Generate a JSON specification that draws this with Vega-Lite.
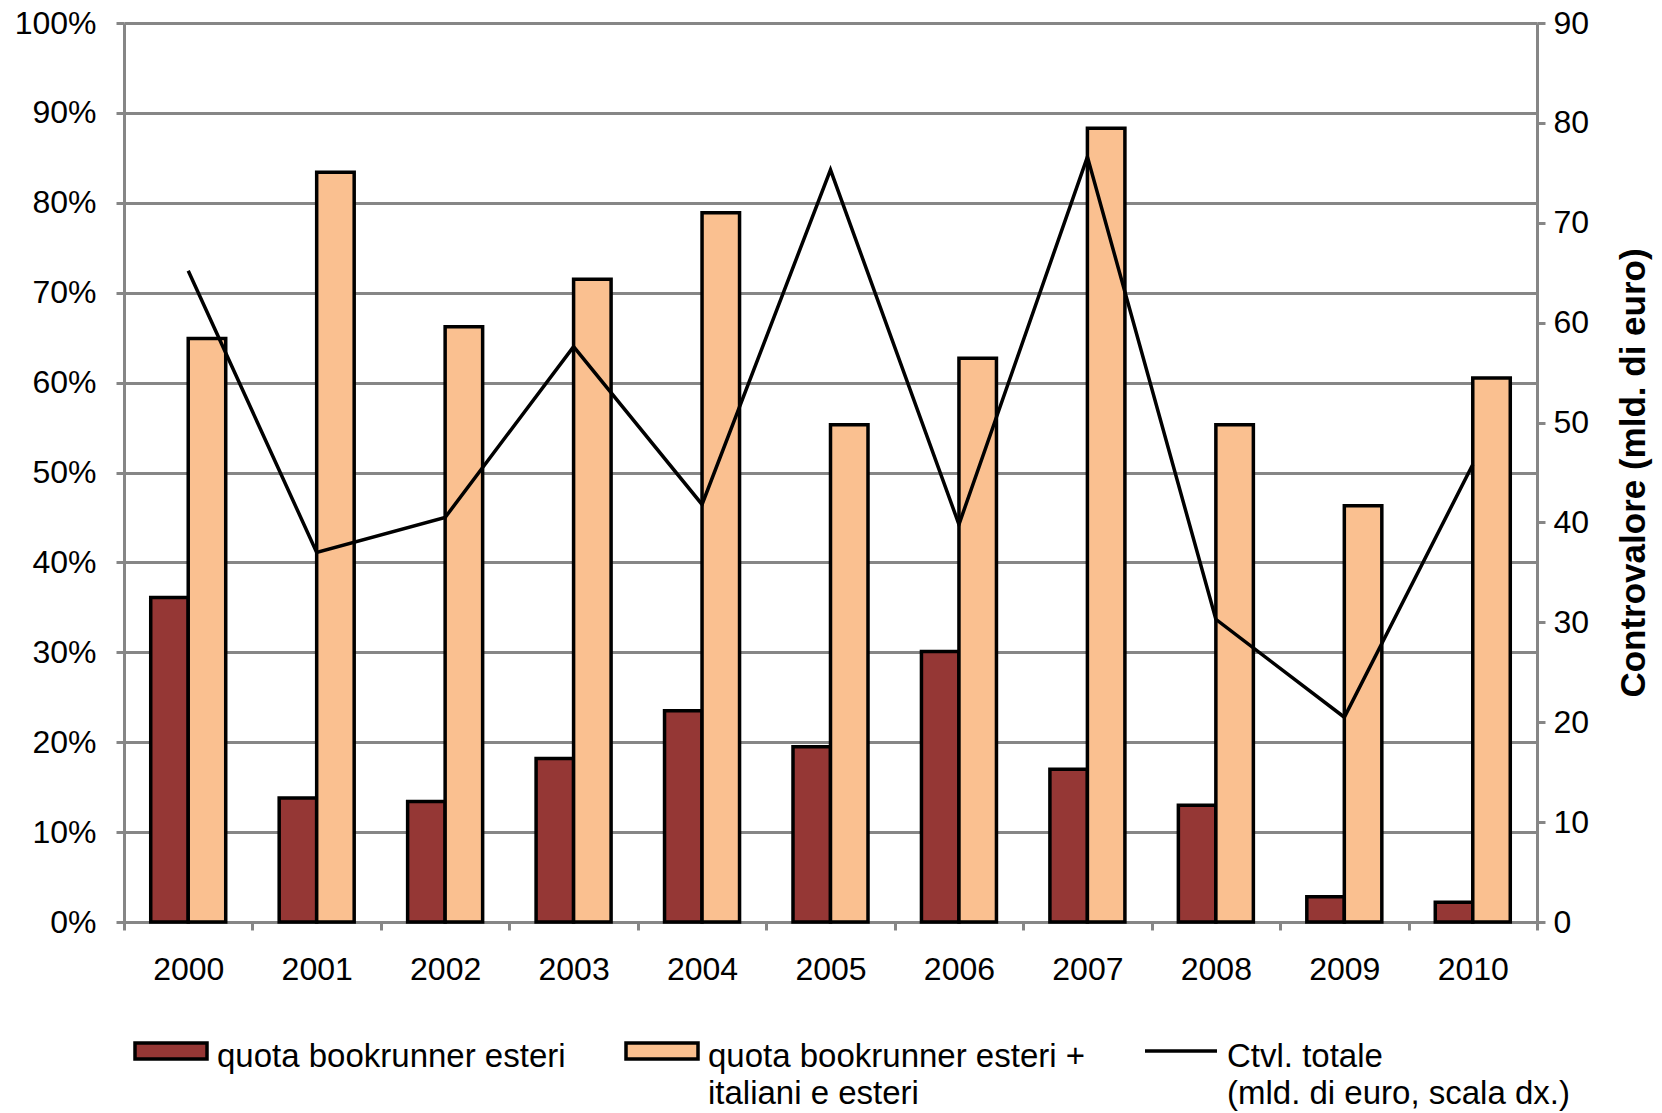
{
  "$schema": "https://vega.github.io/schema/vega-lite/v6.json",
  "width": 1413,
  "height": 899,
  "autosize": {"type": "none"},
  "padding": {"left": 124, "top": 23, "right": 125, "bottom": 191},
  "background": "white",
  "config": {
    "view": {"stroke": null},
    "font": "Liberation Sans",
    "axis": {"labelFont": "Liberation Sans", "labelColor": "#000000", "labelFontSize": 32}
  },
  "datasets": {
    "bars": [
      {"year": "2000", "series": "quota bookrunner esteri", "share": 0.361},
      {"year": "2000", "series": "quota bookrunner esteri +|italiani e esteri", "share": 0.649},
      {"year": "2001", "series": "quota bookrunner esteri", "share": 0.138},
      {"year": "2001", "series": "quota bookrunner esteri +|italiani e esteri", "share": 0.834},
      {"year": "2002", "series": "quota bookrunner esteri", "share": 0.134},
      {"year": "2002", "series": "quota bookrunner esteri +|italiani e esteri", "share": 0.662},
      {"year": "2003", "series": "quota bookrunner esteri", "share": 0.182},
      {"year": "2003", "series": "quota bookrunner esteri +|italiani e esteri", "share": 0.715},
      {"year": "2004", "series": "quota bookrunner esteri", "share": 0.235},
      {"year": "2004", "series": "quota bookrunner esteri +|italiani e esteri", "share": 0.789},
      {"year": "2005", "series": "quota bookrunner esteri", "share": 0.195},
      {"year": "2005", "series": "quota bookrunner esteri +|italiani e esteri", "share": 0.553},
      {"year": "2006", "series": "quota bookrunner esteri", "share": 0.301},
      {"year": "2006", "series": "quota bookrunner esteri +|italiani e esteri", "share": 0.627},
      {"year": "2007", "series": "quota bookrunner esteri", "share": 0.170},
      {"year": "2007", "series": "quota bookrunner esteri +|italiani e esteri", "share": 0.883},
      {"year": "2008", "series": "quota bookrunner esteri", "share": 0.130},
      {"year": "2008", "series": "quota bookrunner esteri +|italiani e esteri", "share": 0.553},
      {"year": "2009", "series": "quota bookrunner esteri", "share": 0.028},
      {"year": "2009", "series": "quota bookrunner esteri +|italiani e esteri", "share": 0.463},
      {"year": "2010", "series": "quota bookrunner esteri", "share": 0.022},
      {"year": "2010", "series": "quota bookrunner esteri +|italiani e esteri", "share": 0.605}
    ],
    "line": [
      {"year": "2000", "ctvl": 65.2},
      {"year": "2001", "ctvl": 37.0},
      {"year": "2002", "ctvl": 40.5},
      {"year": "2003", "ctvl": 57.6},
      {"year": "2004", "ctvl": 41.8},
      {"year": "2005", "ctvl": 75.3},
      {"year": "2006", "ctvl": 39.8},
      {"year": "2007", "ctvl": 76.6},
      {"year": "2008", "ctvl": 30.3},
      {"year": "2009", "ctvl": 20.5},
      {"year": "2010", "ctvl": 45.8}
    ]
  },
  "layer": [
    {
      "data": {"name": "bars"},
      "mark": {"type": "bar", "stroke": "#000000", "strokeWidth": 3.5},
      "encoding": {
        "x": {
          "field": "year", "type": "nominal",
          "scale": {"paddingInner": 0, "paddingOuter": 0},
          "axis": {
            "title": null, "labelAngle": 0, "tickBand": "extent",
            "domainColor": "#868686", "domainWidth": 3,
            "tickColor": "#868686", "tickWidth": 3, "tickSize": 8,
            "labelPadding": 24, "labelFontSize": 32
          }
        },
        "xOffset": {
          "field": "series", "type": "nominal",
          "scale": {"domain": ["quota bookrunner esteri", "quota bookrunner esteri +|italiani e esteri"], "paddingInner": 0, "paddingOuter": 0.7126}
        },
        "y": {
          "field": "share", "type": "quantitative",
          "scale": {"domain": [0, 1], "nice": false},
          "axis": {
            "title": null, "format": ".0%",
            "values": [0, 0.1, 0.2, 0.3, 0.4, 0.5, 0.6, 0.7, 0.8, 0.9, 1],
            "grid": true, "gridColor": "#868686", "gridWidth": 3,
            "domainColor": "#868686", "domainWidth": 3,
            "tickColor": "#868686", "tickWidth": 3, "tickSize": 8,
            "labelPadding": 20
          }
        },
        "fill": {
          "field": "series", "type": "nominal",
          "scale": {
            "domain": ["quota bookrunner esteri", "quota bookrunner esteri +|italiani e esteri"],
            "range": ["#953735", "#FAC090"]
          },
          "legend": {
            "title": null, "orient": "none", "legendX": 9, "legendY": 990,
            "direction": "horizontal",
            "labelFont": "Liberation Sans", "labelFontSize": 33, "labelColor": "#000000",
            "labelLimit": 0, "symbolSize": 5184, "columnPadding": 53, "labelOffset": 8,
            "symbolType": "M-1,-0.22H1V0.22H-1Z",
            "symbolStrokeColor": "#000000", "symbolStrokeWidth": 3.5, "symbolOpacity": 1,
            "labelExpr": "indexof(datum.label, '|') < 0 ? [datum.label, ' '] : split(datum.label, '|')",
            "labelBaseline": "top",
            "encode": {
              "labels": {
                "update": {"dy": {"value": -10}, "lineHeight": {"value": 37}}
              }
            }
          }
        }
      }
    },
    {
      "data": {"name": "line"},
      "mark": {"type": "line", "strokeWidth": 3.5},
      "encoding": {
        "x": {"field": "year", "type": "nominal"},
        "y": {
          "field": "ctvl", "type": "quantitative",
          "scale": {"domain": [0, 90], "nice": false},
          "axis": {
            "orient": "right",
            "title": "Controvalore (mld. di euro)",
            "titleFont": "Liberation Sans", "titleFontWeight": "bold", "titleFontSize": 35,
            "titleColor": "#000000", "titleAngle": 270, "titlePadding": 63,
            "values": [0, 10, 20, 30, 40, 50, 60, 70, 80, 90],
            "grid": false,
            "domainColor": "#868686", "domainWidth": 3,
            "tickColor": "#868686", "tickWidth": 3, "tickSize": 8,
            "labelPadding": 8
          }
        },
        "stroke": {
          "datum": "Ctvl. totale|(mld. di euro, scala dx.)",
          "scale": {"domain": ["Ctvl. totale|(mld. di euro, scala dx.)"], "range": ["#000000"]},
          "legend": {
            "title": null, "orient": "none", "legendX": 1019, "legendY": 990,
            "direction": "horizontal",
            "labelFont": "Liberation Sans", "labelFontSize": 33, "labelColor": "#000000",
            "labelLimit": 0, "symbolSize": 5184, "labelOffset": 8,
            "symbolType": "stroke", "symbolStrokeWidth": 3.5, "symbolStrokeColor": "#000000",
            "labelExpr": "split(datum.label, '|')",
            "labelBaseline": "top",
            "encode": {
              "labels": {
                "update": {"dy": {"value": -10}, "lineHeight": {"value": 37}}
              }
            }
          }
        }
      }
    }
  ],
  "resolve": {"scale": {"y": "independent"}}
}
